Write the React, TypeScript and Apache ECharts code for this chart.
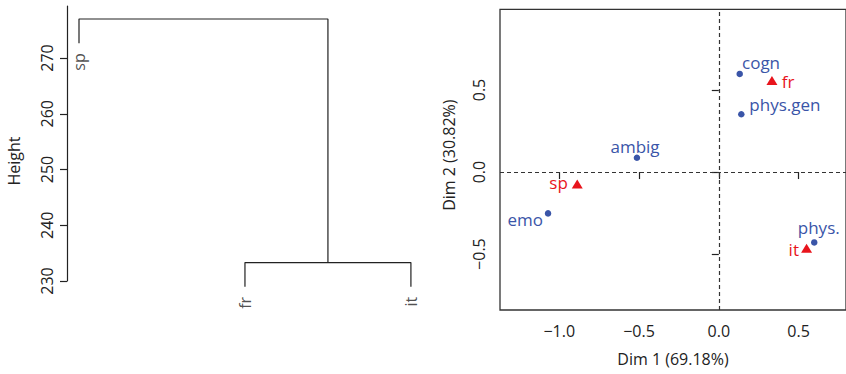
import React, { useEffect, useRef } from "react";
import * as echarts from "echarts";

// ---------- Dendrogram data ----------
const leafNames = ["sp", "fr", "it"];
const leafOrder = [1, 2, 3];
// merge 1: (fr, it); merge 2: (sp, (fr, it))
const mergeHeights = [233.3, 277.0];
const hang = 4.35;
const heightTicks = [230, 240, 250, 260, 270];

// ---------- Correspondence analysis data ----------
const rowNames = ["cogn", "phys.gen", "ambig", "emo", "phys."];
const rowDim1 = [0.131, 0.141, -0.513, -1.07, 0.598];
const rowDim2 = [0.598, 0.352, 0.087, -0.252, -0.429];
const colNames = ["fr", "sp", "it"];
const colDim1 = [0.333, -0.887, 0.55];
const colDim2 = [0.558, -0.073, -0.465];
const dim1Ticks = [-1, -0.5, 0, 0.5];
const dim2Ticks = [-0.5, 0, 0.5];

// ---------- label placement (style) ----------
const rowLabelPlace: Record<string, { align: string; offset: number[] }> = {
  cogn: { align: "left", offset: [2.3, -11.6] },
  "phys.gen": { align: "left", offset: [8, -9.9] },
  ambig: { align: "center", offset: [-1.9, -11.6] },
  emo: { align: "right", offset: [-5, 6.1] },
  "phys.": { align: "center", offset: [4.5, -14.6] },
};
const colLabelPlace: Record<string, { align: string; offset: number[] }> = {
  fr: { align: "left", offset: [9.8, 0.6] },
  sp: { align: "right", offset: [-9.4, -1.3] },
  it: { align: "right", offset: [-7.6, 1.1] },
};

const FONT = "'Open Sans', 'Noto Sans', sans-serif";
const INK = "#222";
const BLUE = "#3a55a8";
const RED = "#e8141c";

const fmt = (v: number) => v.toFixed(1).replace("-", "\u2212");

export default function App() {
  const ref = useRef<HTMLDivElement>(null);
  useEffect(() => {
    if (!ref.current) return;
    const chart = echarts.init(ref.current, null, { renderer: "svg" });

    const [h1, h2] = mergeHeights;
    const [pSp, pFr, pIt] = leafOrder;
    const midA = (pFr + pIt) / 2;
    const branchA = [
      [pFr, h1 - hang],
      [pFr, h1],
      [pIt, h1],
      [pIt, h1 - hang],
    ];
    const branchB = [
      [pSp, h2 - hang],
      [pSp, h2],
      [midA, h2],
      [midA, h1],
    ];
    const leafEnds = [h2 - hang, h1 - hang, h1 - hang];
    const leafData = leafNames.map((n, i) => ({ name: n, value: [leafOrder[i], leafEnds[i]] }));

    const tickStyle = { color: INK, width: 1.2 };
    const labelBase = { fontFamily: FONT, fontSize: 16, fontWeight: 500, color: INK };

    const option: any = {
      animation: false,
      textStyle: { fontFamily: FONT },
      grid: [
        { left: 67, top: 6, width: 363, height: 275 },
        {
          left: 500,
          top: 9.3,
          width: 348,
          height: 300.7,
          show: true,
          borderColor: "#333",
          borderWidth: 1.3,
          backgroundColor: "transparent",
        },
      ],
      xAxis: [
        { gridIndex: 0, type: "value", min: 0.9277, max: 3.115, show: false },
        {
          gridIndex: 1,
          type: "value",
          min: -1.371,
          max: 0.797,
          name: "Dim 1 (69.18%)",
          nameLocation: "middle",
          nameGap: 41,
          nameTextStyle: { ...labelBase },
          axisLine: { show: false },
          axisTick: { show: true, inside: false, length: 7, customValues: dim1Ticks, lineStyle: tickStyle },
          axisLabel: { customValues: dim1Ticks, formatter: fmt, margin: 13, ...labelBase },
          splitLine: { show: false },
        },
      ],
      yAxis: [
        {
          gridIndex: 0,
          type: "value",
          min: 230,
          max: 279.33,
          name: "Height",
          nameLocation: "middle",
          nameGap: 45,
          nameTextStyle: { ...labelBase, padding: [0, 35, 0, 0] },
          axisLine: { show: true, lineStyle: { color: INK, width: 1.2 } },
          axisTick: { show: true, inside: false, length: 7, customValues: heightTicks, lineStyle: tickStyle },
          axisLabel: { customValues: heightTicks, rotate: 90, margin: 12, ...labelBase },
          splitLine: { show: false },
        },
        {
          gridIndex: 1,
          type: "value",
          min: -0.841,
          max: 0.992,
          name: "Dim 2 (30.82%)",
          nameLocation: "middle",
          nameGap: 43,
          nameTextStyle: { ...labelBase, padding: [0, 0, 0, 9] },
          axisLine: { show: false },
          axisTick: { show: true, inside: false, length: 7, customValues: dim2Ticks, lineStyle: tickStyle },
          axisLabel: { customValues: dim2Ticks, formatter: fmt, rotate: 90, margin: 13, ...labelBase },
          splitLine: { show: false },
        },
      ],
      series: [
        {
          type: "line",
          xAxisIndex: 0,
          yAxisIndex: 0,
          data: branchA,
          symbol: "none",
          clip: false,
          lineStyle: { color: INK, width: 1.2 },
          silent: true,
        },
        {
          type: "line",
          xAxisIndex: 0,
          yAxisIndex: 0,
          data: branchB,
          symbol: "none",
          clip: false,
          lineStyle: { color: INK, width: 1.2 },
          silent: true,
        },
        {
          type: "scatter",
          xAxisIndex: 0,
          yAxisIndex: 0,
          data: leafData,
          symbolSize: 1,
          clip: false,
          itemStyle: { color: "transparent" },
          label: {
            show: true,
            formatter: "{b}",
            position: "inside",
            rotate: 90,
            align: "right",
            verticalAlign: "middle",
            offset: [-10, 0],
            textBorderWidth: 0,
            ...labelBase,
          },
          silent: true,
        },
        {
          type: "scatter",
          xAxisIndex: 1,
          yAxisIndex: 1,
          symbol: "circle",
          symbolSize: 6.5,
          itemStyle: { color: BLUE, opacity: 1 },
          data: rowNames.map((n, i) => ({
            name: n,
            value: [rowDim1[i], rowDim2[i]],
            label: { align: rowLabelPlace[n].align, offset: rowLabelPlace[n].offset },
          })),
          label: {
            show: true,
            formatter: "{b}",
            position: "inside",
            verticalAlign: "middle",
            fontFamily: FONT,
            fontSize: 17,
            fontWeight: 500,
            color: BLUE,
            textBorderWidth: 0,
          },
          markLine: {
            silent: true,
            symbol: ["none", "none"],
            label: { show: false },
            lineStyle: { color: "#333", type: [4, 3], width: 1.2 },
            data: [{ xAxis: 0 }, { yAxis: 0 }],
          },
          silent: true,
        },
        {
          type: "scatter",
          xAxisIndex: 1,
          yAxisIndex: 1,
          symbol: "triangle",
          symbolSize: [11, 9],
          itemStyle: { color: RED, opacity: 1 },
          data: colNames.map((n, i) => ({
            name: n,
            value: [colDim1[i], colDim2[i]],
            label: { align: colLabelPlace[n].align, offset: colLabelPlace[n].offset },
          })),
          label: {
            show: true,
            formatter: "{b}",
            position: "inside",
            verticalAlign: "middle",
            fontFamily: FONT,
            fontSize: 17,
            fontWeight: 500,
            color: RED,
            textBorderWidth: 0,
          },
          silent: true,
        },
      ],
    };
    chart.setOption(option);
    return () => chart.dispose();
  }, []);
  return (
    <div
      ref={ref}
      style={{ position: "absolute", left: 0, top: 0, width: 846, height: 374, background: "#fff" }}
    />
  );
}
